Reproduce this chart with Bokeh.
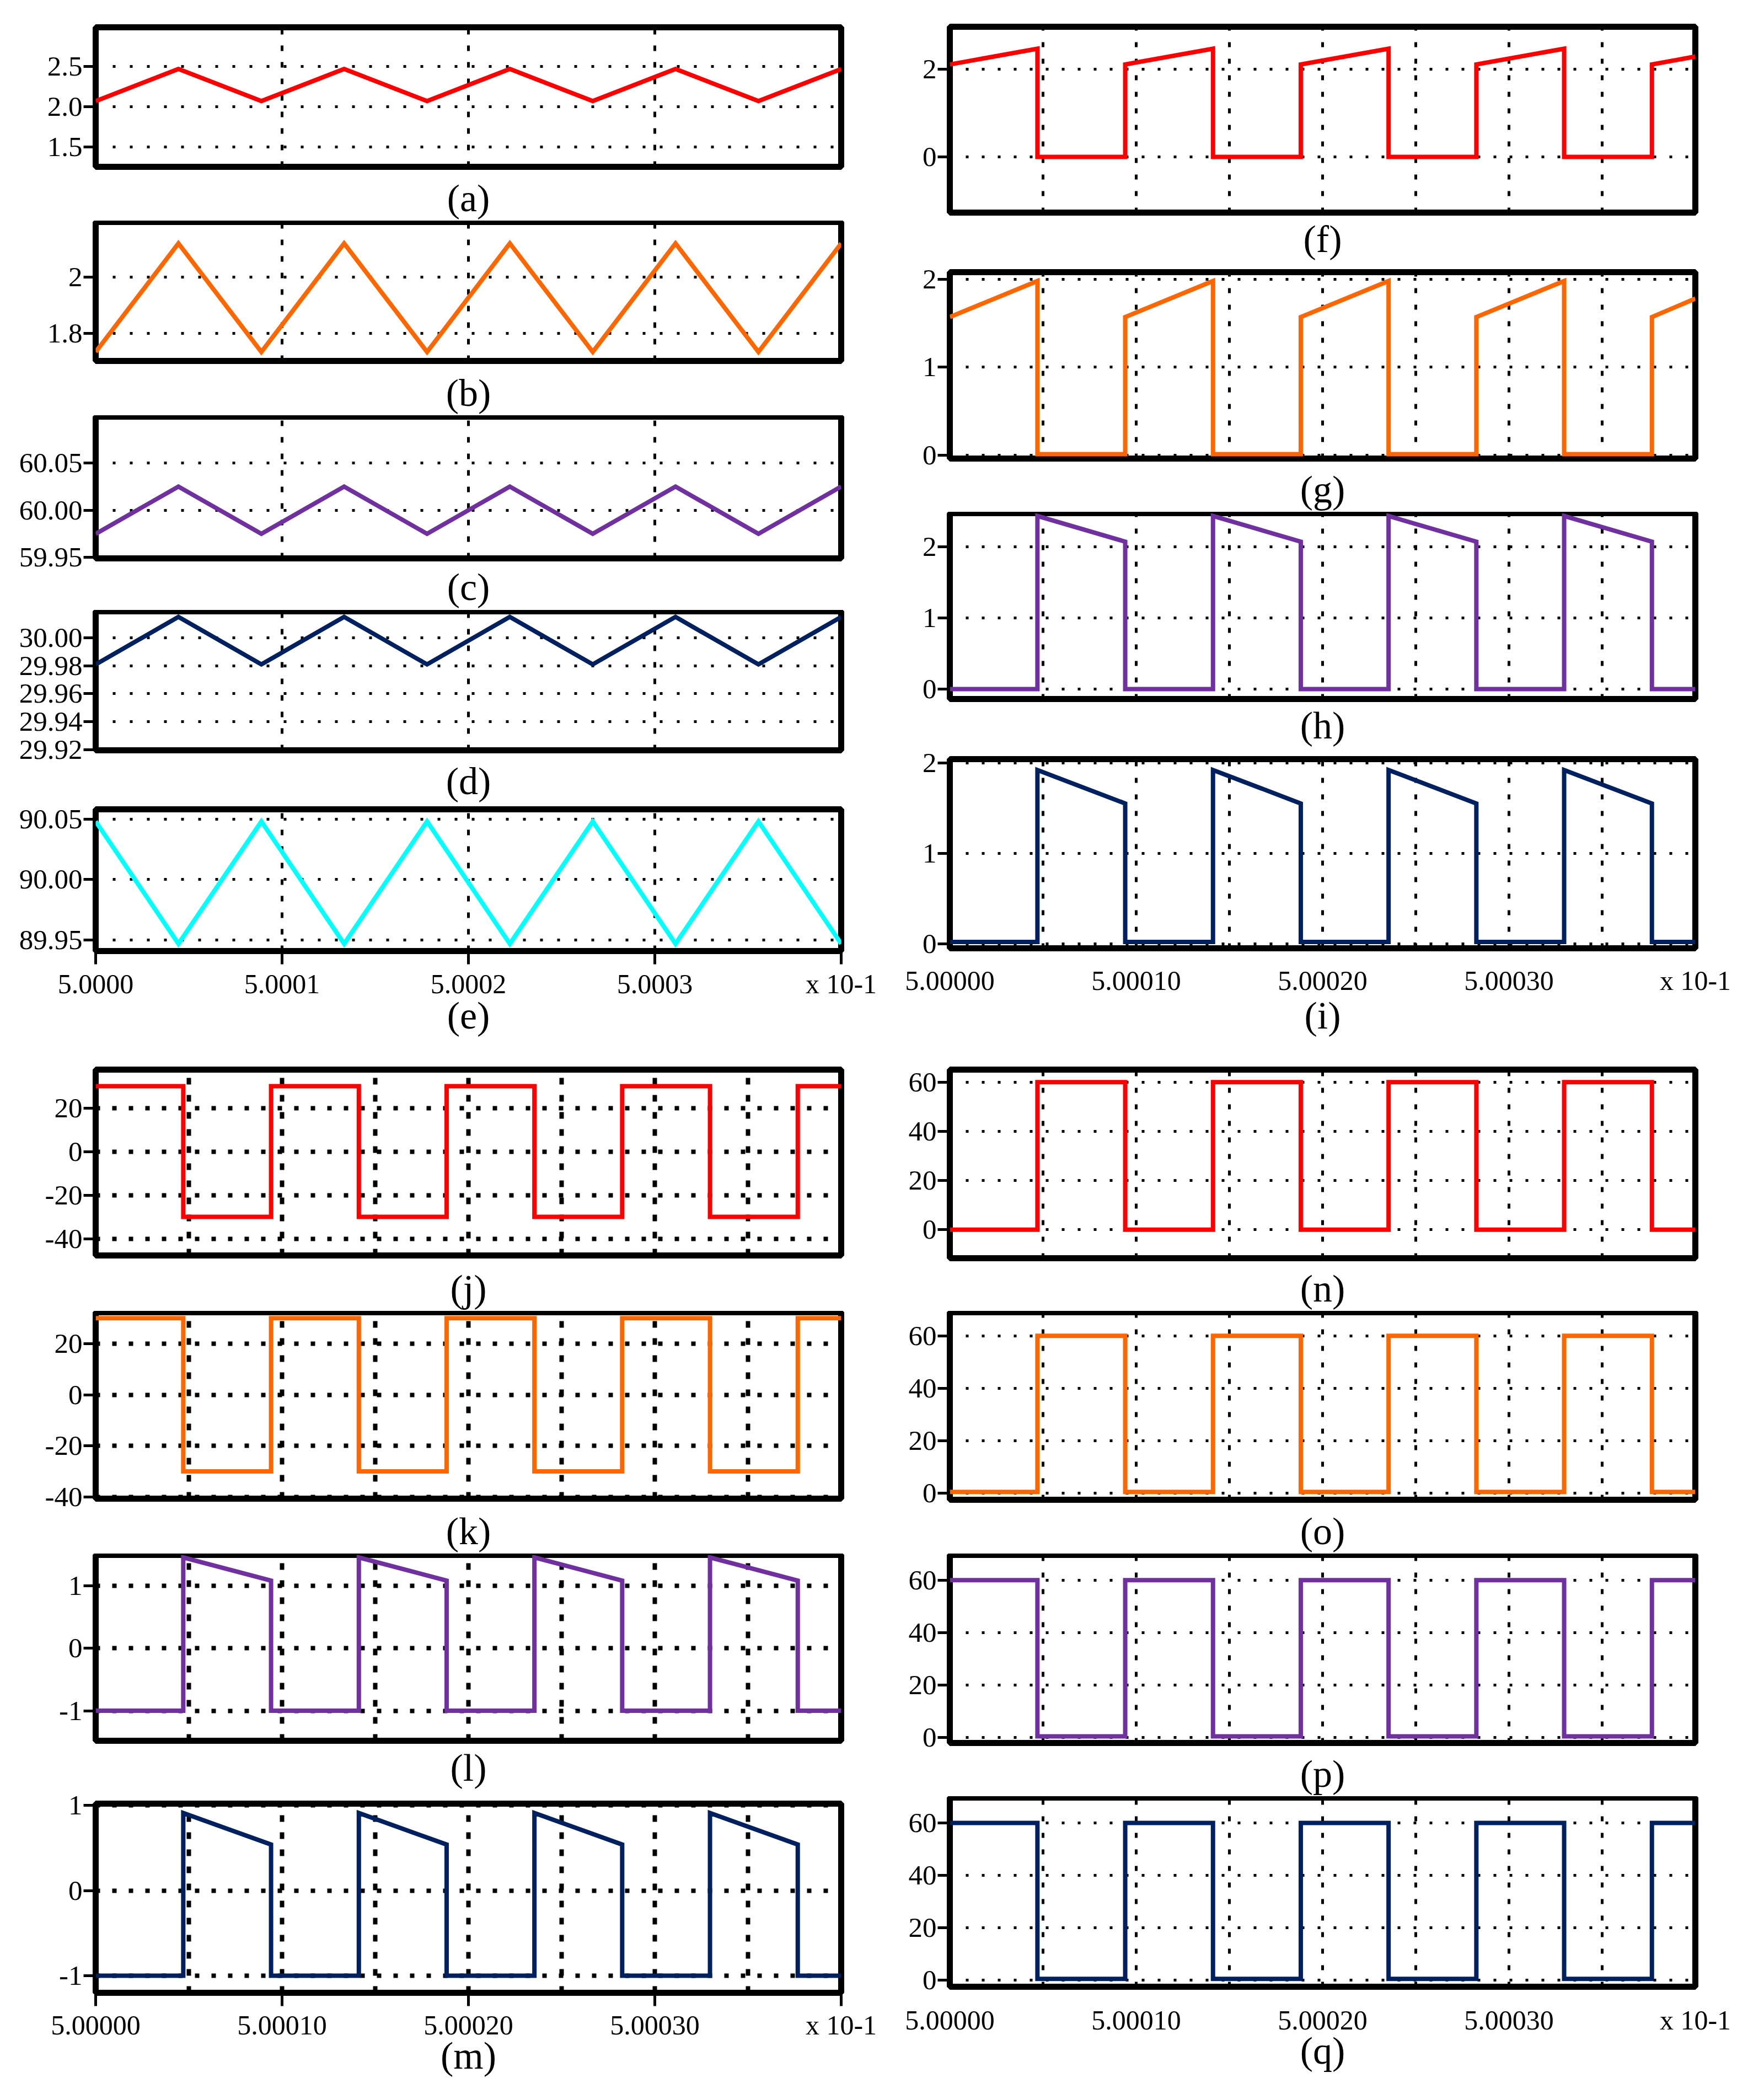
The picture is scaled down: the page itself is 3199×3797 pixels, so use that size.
from bokeh.plotting import figure
from bokeh.layouts import column, row
from bokeh.models import FixedTicker, Range1d
from bokeh.embed import file_html
from bokeh.resources import INLINE

# ---- x axis: microseconds after 0.5 s (axis printed as "5.0000 x 10-1") ----
x_ticks = [0, 10, 20, 30, 40]
x_labels_top = ["5.0000", "5.0001", "5.0002", "5.0003", "x 10-1"]
x_labels = ["5.00000", "5.00010", "5.00020", "5.00030", "x 10-1"]
xgrid_coarse = [10, 20, 30]
xgrid_fine = [5, 10, 15, 20, 25, 30, 35]

# ---- top-left: triangular ripples ----
tri_t = [0.0, 4.44, 8.89, 13.33, 17.78, 22.22, 26.67, 31.11, 35.56, 40.0]
a_y = [2.07, 2.47, 2.07, 2.47, 2.07, 2.47, 2.07, 2.47, 2.07, 2.47]
b_y = [1.735, 2.12, 1.735, 2.12, 1.735, 2.12, 1.735, 2.12, 1.735, 2.12]
c_y = [59.975, 60.025, 59.975, 60.025, 59.975, 60.025, 59.975, 60.025, 59.975, 60.025]
d_y = [29.981, 30.015, 29.981, 30.015, 29.981, 30.015, 29.981, 30.015, 29.981, 30.015]
e_y = [90.048, 89.947, 90.048, 89.947, 90.048, 89.947, 90.048, 89.947, 90.048, 89.947]

# ---- switching waveforms: vertex times ----
sw_t = [0.0, 4.70, 4.70, 9.41, 9.41, 14.12, 14.12, 18.83, 18.83,
        23.54, 23.54, 28.25, 28.25, 32.96, 32.96, 37.67, 37.67, 40.0]
f_y = [2.11, 2.47, 0, 0, 2.11, 2.47, 0, 0, 2.11, 2.47, 0, 0, 2.11, 2.47, 0, 0, 2.11, 2.29]
g_y = [1.57, 1.98, 0.01, 0.01, 1.57, 1.98, 0.01, 0.01, 1.57, 1.98, 0.01, 0.01, 1.57, 1.98, 0.01, 0.01, 1.57, 1.78]
h_y = [0, 0, 2.43, 2.07, 0, 0, 2.43, 2.07, 0, 0, 2.43, 2.07, 0, 0, 2.43, 2.07, 0, 0]
i_y = [0.02, 0.02, 1.92, 1.55, 0.02, 0.02, 1.92, 1.55, 0.02, 0.02, 1.92, 1.55, 0.02, 0.02, 1.92, 1.55, 0.02, 0.02]
j_y = [30, 30, -30, -30, 30, 30, -30, -30, 30, 30, -30, -30, 30, 30, -30, -30, 30, 30]
k_y = [30, 30, -30, -30, 30, 30, -30, -30, 30, 30, -30, -30, 30, 30, -30, -30, 30, 30]
l_y = [-1, -1, 1.45, 1.08, -1, -1, 1.45, 1.08, -1, -1, 1.45, 1.08, -1, -1, 1.45, 1.08, -1, -1]
m_y = [-1, -1, 0.91, 0.54, -1, -1, 0.91, 0.54, -1, -1, 0.91, 0.54, -1, -1, 0.91, 0.54, -1, -1]
n_y = [0, 0, 60, 60, 0, 0, 60, 60, 0, 0, 60, 60, 0, 0, 60, 60, 0, 0]
o_y = [0.5, 0.5, 60, 60, 0.5, 0.5, 60, 60, 0.5, 0.5, 60, 60, 0.5, 0.5, 60, 60, 0.5, 0.5]
p_y = [60, 60, 0.5, 0.5, 60, 60, 0.5, 0.5, 60, 60, 0.5, 0.5, 60, 60, 0.5, 0.5, 60, 60]
q_y = [60, 60, 0.5, 0.5, 60, 60, 0.5, 0.5, 60, 60, 0.5, 0.5, 60, 60, 0.5, 0.5, 60, 60]

# ---- y ticks ----
yt_a, yl_a = [1.5, 2.0, 2.5], ["1.5", "2.0", "2.5"]
yt_b, yl_b = [1.8, 2.0], ["1.8", "2"]
yt_c, yl_c = [59.95, 60.0, 60.05], ["59.95", "60.00", "60.05"]
yt_d, yl_d = [29.92, 29.94, 29.96, 29.98, 30.0], ["29.92", "29.94", "29.96", "29.98", "30.00"]
yt_e, yl_e = [89.95, 90.0, 90.05], ["89.95", "90.00", "90.05"]
yt_f, yl_f = [0, 2], ["0", "2"]
yt_012, yl_012 = [0, 1, 2], ["0", "1", "2"]
yt_30, yl_30 = [-40, -20, 0, 20], ["-40", "-20", "0", "20"]
yt_1, yl_1 = [-1, 0, 1], ["-1", "0", "1"]
yt_60, yl_60 = [0, 20, 40, 60], ["0", "20", "40", "60"]

RED, ORANGE, PURPLE, NAVY, CYAN = "#FF0000", "#FF6600", "#7030A0", "#002060", "#00FFFF"
FONT = "Liberation Serif"
FRAME_W = 1352


def panel(xs, ys, color, yr, yt, yl, caption, side, frame_h, top, bottom,
          xgrid, gstyle, xlabs=None, xtick_out=0, xlab_standoff=0, cap_standoff=2):
    if side == "left":
        bl, br = 173, 95
    else:
        bl, br = 102, 100
    p = figure(width=bl + FRAME_W + br, height=top + frame_h + bottom,
               x_range=Range1d(0, 40), y_range=Range1d(yr[0], yr[1]),
               output_backend="svg", toolbar_location=None, title=None,
               min_border_left=bl, min_border_right=br,
               min_border_top=top, min_border_bottom=bottom)
    p.background_fill_color = "white"
    p.border_fill_color = "white"
    p.outline_line_color = "black"
    p.outline_line_width = 11
    p.outline_line_alpha = 1.0

    p.line(xs, ys, line_color=color, line_width=8, line_join="miter")

    gw, hdash, vdash = gstyle
    # y axis
    p.yaxis.ticker = FixedTicker(ticks=yt)
    p.yaxis.major_label_overrides = dict(zip(yt, yl))
    p.yaxis.axis_line_color = None
    p.yaxis.major_tick_out = 22
    p.yaxis.major_tick_in = 0
    p.yaxis.major_tick_line_width = 5
    p.yaxis.major_tick_line_color = "black"
    p.yaxis.minor_tick_line_color = None
    p.yaxis.major_label_standoff = 2
    p.yaxis.major_label_text_font = FONT
    p.yaxis.major_label_text_font_size = "51px"
    p.yaxis.major_label_text_color = "black"

    # x axis (caption as axis label)
    p.xaxis.axis_line_color = None
    p.xaxis.minor_tick_line_color = None
    p.xaxis.major_tick_in = 0
    p.xaxis.major_tick_line_width = 5
    p.xaxis.major_tick_line_color = "black"
    if xlabs is None:
        p.xaxis.ticker = FixedTicker(ticks=[])
        p.xaxis.major_tick_out = 0
        p.xaxis.major_label_standoff = 0
    else:
        p.xaxis.ticker = FixedTicker(ticks=x_ticks)
        p.xaxis.major_label_overrides = dict(zip(x_ticks, xlabs))
        p.xaxis.major_tick_out = xtick_out
        p.xaxis.major_label_standoff = xlab_standoff
        p.xaxis.major_label_text_font = FONT
        p.xaxis.major_label_text_font_size = "50px"
        p.xaxis.major_label_text_color = "black"
    p.xaxis.axis_label = caption
    p.xaxis.axis_label_text_font = FONT
    p.xaxis.axis_label_text_font_size = "70px"
    p.xaxis.axis_label_text_font_style = "normal"
    p.xaxis.axis_label_text_color = "black"
    p.xaxis.axis_label_standoff = cap_standoff

    # dotted grids
    p.xgrid.ticker = FixedTicker(ticks=xgrid)
    p.ygrid.ticker = FixedTicker(ticks=yt)
    p.xgrid.grid_line_color = "black"
    p.ygrid.grid_line_color = "black"
    p.xgrid.grid_line_width = gw
    p.ygrid.grid_line_width = gw
    p.xgrid.grid_line_dash = vdash
    p.ygrid.grid_line_dash = hdash
    return p


G_TL = (5, "5 26", "10 20")
G_R = (5, "5 24", "9 21")
G_BL = (8, "8 22", "12 19")

# top-left column (frame 257 px, slot 353 px)
pa = panel(tri_t, a_y, RED, (1.25, 2.99), yt_a, yl_a, "(a)", "left", 257, 49, 94, xgrid_coarse, G_TL, cap_standoff=18)
pb = panel(tri_t, b_y, ORANGE, (1.703, 2.196), yt_b, yl_b, "(b)", "left", 257, 2, 94, xgrid_coarse, G_TL, cap_standoff=19)
pc = panel(tri_t, c_y, PURPLE, (59.949, 60.099), yt_c, yl_c, "(c)", "left", 257, 2, 94, xgrid_coarse, G_TL, cap_standoff=13)
pd = panel(tri_t, d_y, NAVY, (29.9195, 30.019), yt_d, yl_d, "(d)", "left", 257, 2, 92, xgrid_coarse, G_TL, cap_standoff=17)
pe = panel(tri_t, e_y, CYAN, (89.941, 90.058), yt_e, yl_e, "(e)", "left", 257, 10, 195, xgrid_coarse, G_TL,
           xlabs=x_labels_top, xtick_out=24, xlab_standoff=7, cap_standoff=-12)

# top-right column (frame 343 px, slot ~440 px)
pf = panel(sw_t, f_y, RED, (-1.27, 2.97), yt_f, yl_f, "(f)", "right", 343, 48, 83, xgrid_fine, G_R, cap_standoff=9)
pg = panel(sw_t, g_y, ORANGE, (-0.04, 2.08), yt_012, yl_012, "(g)", "right", 343, 19, 92, xgrid_fine, G_R, cap_standoff=17)
ph = panel(sw_t, h_y, PURPLE, (-0.14, 2.47), yt_012, yl_012, "(h)", "right", 343, 2, 83, xgrid_fine, G_R, cap_standoff=9)
pi = panel(sw_t, i_y, NAVY, (-0.05, 2.04), yt_012, yl_012, "(i)", "right", 343, 20, 200, xgrid_fine, G_R,
           xlabs=x_labels, xtick_out=0, xlab_standoff=30, cap_standoff=-6)

# bottom-left column
pj = panel(sw_t, j_y, RED, (-47.7, 37.6), yt_30, yl_30, "(j)", "left", 343, 20, 95, xgrid_fine, G_BL, cap_standoff=21)
pk = panel(sw_t, k_y, ORANGE, (-40.7, 32.3), yt_30, yl_30, "(k)", "left", 343, 2, 95, xgrid_fine, G_BL, cap_standoff=20)
pl = panel(sw_t, l_y, PURPLE, (-1.48, 1.49), yt_1, yl_1, "(l)", "left", 343, 2, 84, xgrid_fine, G_BL, cap_standoff=10)
pm = panel(sw_t, m_y, NAVY, (-1.2, 1.02), yt_1, yl_1, "(m)", "left", 343, 24, 162, xgrid_fine, G_BL,
           xlabs=x_labels, xtick_out=24, xlab_standoff=6, cap_standoff=-14)

# bottom-right column
pn = panel(sw_t, n_y, RED, (-11.6, 65.1), yt_60, yl_60, "(n)", "right", 343, 20, 95, xgrid_fine, G_R, cap_standoff=16)
po = panel(sw_t, o_y, ORANGE, (-2.5, 69.0), yt_60, yl_60, "(o)", "right", 343, 2, 95, xgrid_fine, G_R, cap_standoff=18)
pp = panel(sw_t, p_y, PURPLE, (-2.0, 69.6), yt_60, yl_60, "(p)", "right", 343, 2, 95, xgrid_fine, G_R, cap_standoff=17)
pq = panel(sw_t, q_y, NAVY, (-2.5, 69.7), yt_60, yl_60, "(q)", "right", 343, 2, 170, xgrid_fine, G_R,
           xlabs=x_labels, xtick_out=0, xlab_standoff=32, cap_standoff=-14)

left = column(pa, pb, pc, pd, pe, pj, pk, pl, pm)
right = column(pf, pg, ph, pi, pn, po, pp, pq)
layout = row(left, right)

open("out.html", "w").write(file_html(layout, INLINE, title="waveforms"))
